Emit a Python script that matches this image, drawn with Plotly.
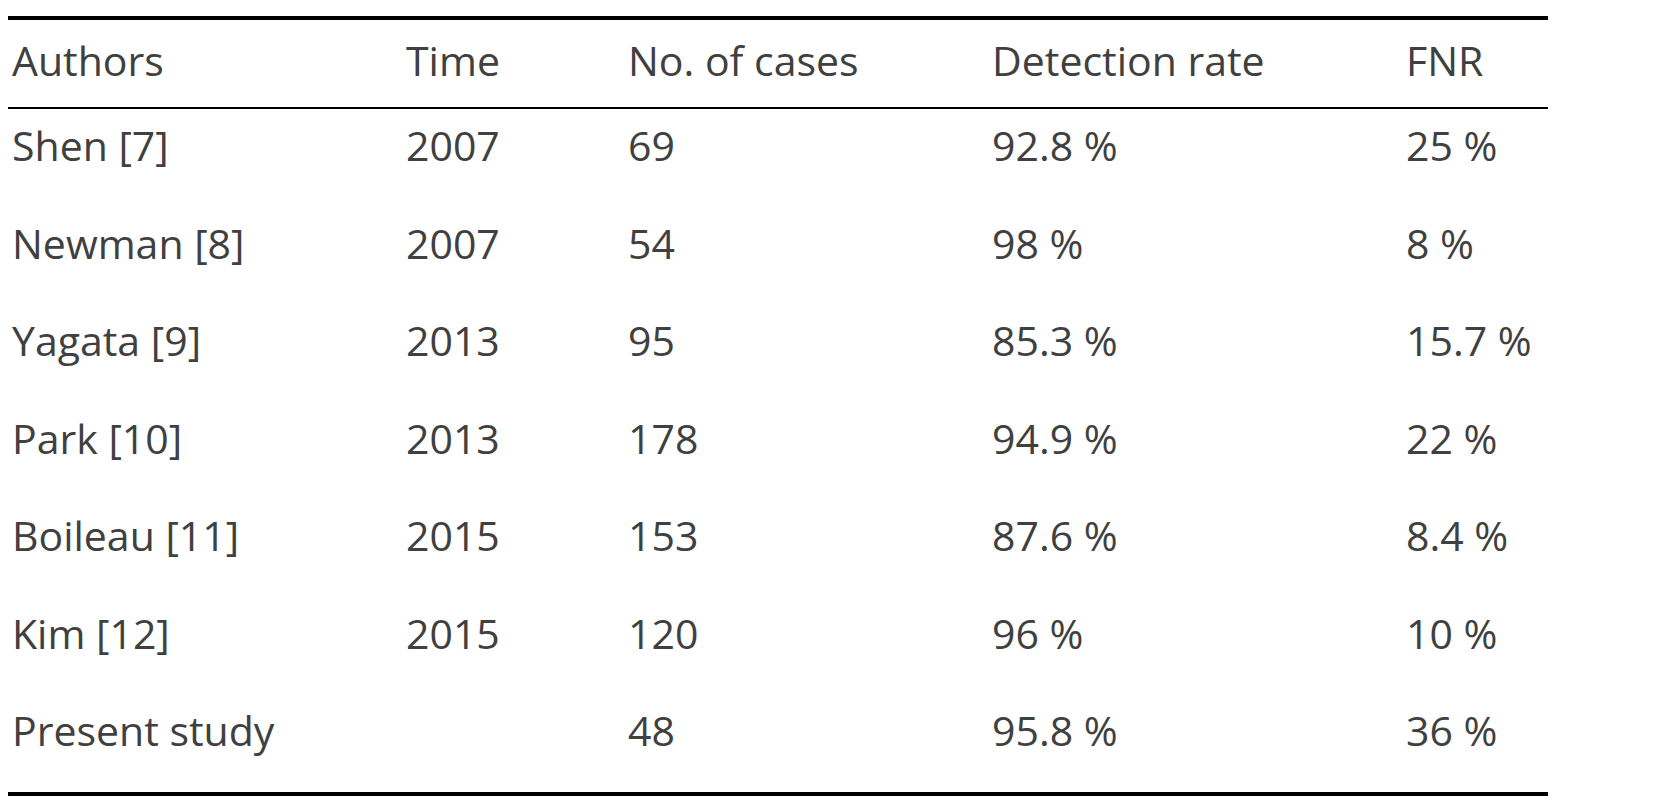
import plotly.graph_objects as go

headers = ["Authors", "Time", "No. of cases", "Detection rate", "FNR"]
authors = ["Shen [7]", "Newman [8]", "Yagata [9]", "Park [10]", "Boileau [11]", "Kim [12]", "Present study"]
times = ["2007", "2007", "2013", "2013", "2015", "2015", ""]
cases = ["69", "54", "95", "178", "153", "120", "48"]
detection = ["92.8 %", "98 %", "85.3 %", "94.9 %", "87.6 %", "96 %", "95.8 %"]
fnr = ["25 %", "8 %", "15.7 %", "22 %", "8.4 %", "10 %", "36 %"]

columns = [authors, times, cases, detection, fnr]
col_x = [4, 398, 620, 984, 1398]
header_y = 58
row_y = [143 + 97.5 * i for i in range(len(authors))]

fig = go.Figure()
font = dict(family="Open Sans", size=41, color="#404040")

for x, head, values in zip(col_x, headers, columns):
    fig.add_trace(go.Scatter(
        x=[x] * (len(values) + 1),
        y=[header_y] + row_y,
        text=[head] + values,
        mode="text",
        textposition="middle right",
        textfont=font,
        hoverinfo="skip",
    ))

# rules
fig.add_shape(type="line", x0=0, x1=1540, y0=10, y1=10, line=dict(color="black", width=4))
fig.add_shape(type="line", x0=0, x1=1540, y0=100, y1=100, line=dict(color="black", width=2))
fig.add_shape(type="line", x0=0, x1=1540, y0=786, y1=786, line=dict(color="black", width=4))

fig.update_layout(
    width=1669, height=800,
    margin=dict(l=0, r=0, t=0, b=0),
    showlegend=False,
    plot_bgcolor="white", paper_bgcolor="white",
    xaxis=dict(range=[0, 1669], visible=False),
    yaxis=dict(range=[800, 0], visible=False),
)

fig.write_html("out.html")
